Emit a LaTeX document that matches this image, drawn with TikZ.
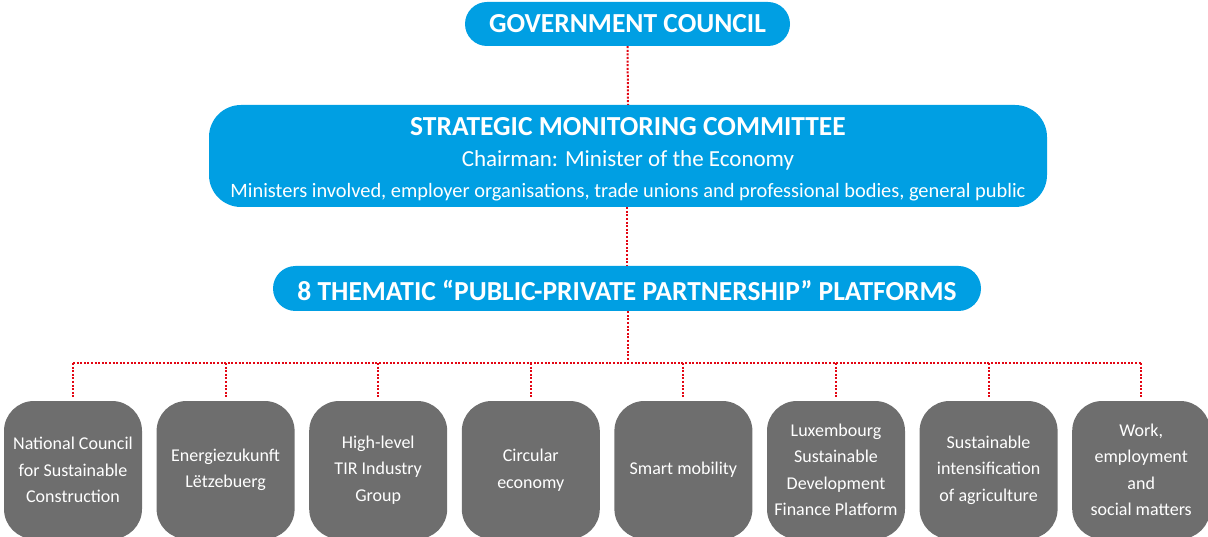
\documentclass[tikz,border=0pt]{standalone}
\usepackage{fontspec}
\setmainfont{Carlito}
\definecolor{cblue}{HTML}{009FE3}
\definecolor{cgray}{HTML}{6E6E6E}
\definecolor{cred}{HTML}{E30613}
\begin{document}
\begin{tikzpicture}[x=1pt,y=-1pt,
  bluebox/.style={fill=cblue,draw=none,rectangle,inner sep=0pt,text=white},
  graybox/.style={fill=cgray,draw=none,rectangle,rounded corners=30pt,minimum width=138pt,minimum height=138pt,inner sep=0pt,text=white,align=center,font=\fontsize{18}{26.5}\selectfont},
  lbl/.style={text=white,inner sep=0pt},
  dotline/.style={draw=cred,line width=2pt,dash pattern=on 2pt off 1.6pt}]
\useasboundingbox (0,0) rectangle (1208,537);

\node[bluebox,minimum width=325pt,minimum height=44pt,rounded corners=22pt] (gov) at (627.5,24) {};
\node[lbl,font=\fontsize{27.5}{32}\selectfont\bfseries] (govt) at (627.5,24) {GOVERNMENT COUNCIL};

\node[bluebox,minimum width=838pt,minimum height=102pt,rounded corners=32pt] (strat) at (628,156) {};
\node[lbl,font=\fontsize{27.5}{32}\selectfont\bfseries] (strat1) at (628,127) {STRATEGIC MONITORING COMMITTEE};
\node[lbl,font=\fontsize{23}{28}\selectfont] (strat2) at (628,160) {Chairman: Minister of the Economy};
\node[lbl,font=\fontsize{20.4}{26}\selectfont] (strat3) at (628,192) {Ministers involved, employer organisations, trade unions and professional bodies, general public};

\node[bluebox,minimum width=708pt,minimum height=45pt,rounded corners=22.5pt] (them) at (627,288.5) {};
\node[lbl,font=\fontsize{27.5}{32}\selectfont\bfseries] (themt) at (627,290) {8 THEMATIC “PUBLIC-PRIVATE PARTNERSHIP” PLATFORMS};

\node[graybox] (b1) at (73,470) {National Council\\for Sustainable\\Construction};
\node[graybox] (b2) at (225.6,470) {Energiezukunft\\Lëtzebuerg};
\node[graybox] (b3) at (378.2,470) {High-level\\TIR Industry\\Group};
\node[graybox] (b4) at (530.8,470) {Circular\\economy};
\node[graybox] (b5) at (683.4,470) {Smart mobility};
\node[graybox] (b6) at (836,470) {Luxembourg\\Sustainable\\Development\\Finance Platform};
\node[graybox] (b7) at (988.6,470) {Sustainable\\intensification\\of agriculture};
\node[graybox] (b8) at (1141.2,470) {Work,\\employment\\and\\social matters};

\coordinate (bus) at (628,363);
\draw[dotline] (gov.south) -- (strat.north);
\draw[dotline] (strat.south -| them.north) -- (them.north);
\draw[dotline] (them.south -| bus) -- (bus);
\draw[dotline] (b1.north |- bus) -- (b8.north |- bus);
\foreach \i in {1,...,8} {
  \draw[dotline,shorten >=3pt] (b\i.north |- bus) -- (b\i.north);
}
\end{tikzpicture}
\end{document}
